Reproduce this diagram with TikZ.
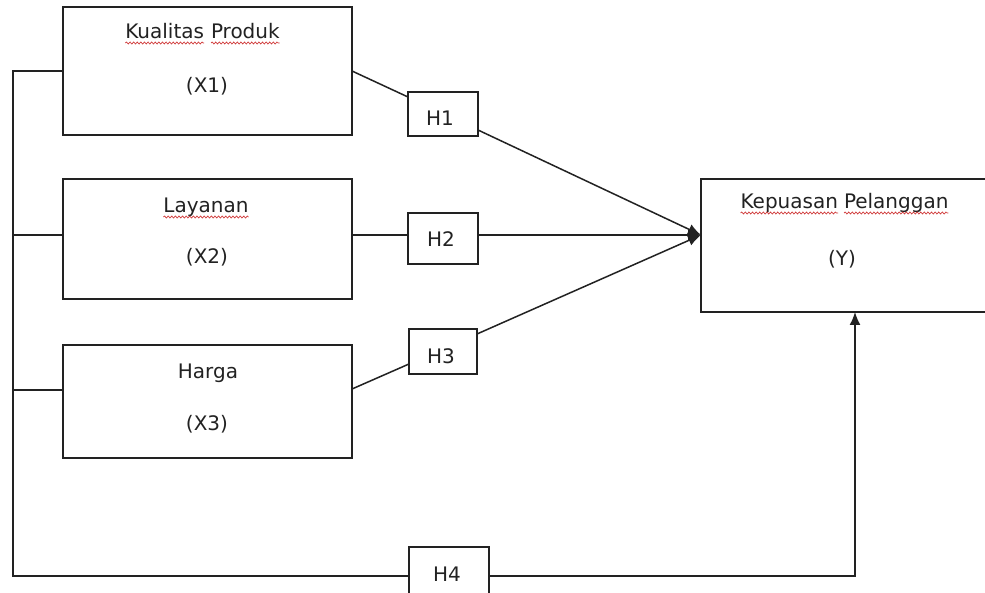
\documentclass[tikz,border=0pt]{standalone}
\usepackage{fontspec}
\setmainfont{DejaVu Sans}
\usetikzlibrary{arrows.meta,calc,decorations.pathmorphing}
\definecolor{ink}{HTML}{222222}
\definecolor{squigred}{HTML}{D03A3A}
\begin{document}
\begin{tikzpicture}[x=1pt,y=-1pt,
  box/.style={draw=ink,line width=1.6pt,rectangle,inner sep=0pt,outer sep=0pt},
  txt/.style={inner sep=0pt,outer sep=0pt,text=ink,font=\fontsize{20}{24}\selectfont},
  conn/.style={draw=ink,line width=1.5pt},
  arr/.style={conn,-{Latex[length=13pt,width=11pt]}},
  squig/.style={draw=squigred,line width=0.7pt,decorate,decoration={snake,amplitude=1pt,segment length=3.6pt}}]
\useasboundingbox (0,0) rectangle (985,593);
\clip (0,0) rectangle (985,593);
\fill[white] (0,0) rectangle (985,593);
% boxes
\node[box,minimum width=289pt,minimum height=128pt] (X1) at (207.5,71) {};
\node[box,minimum width=289pt,minimum height=120pt] (X2) at (207.5,239) {};
\node[box,minimum width=289pt,minimum height=113pt] (X3) at (207.5,401.5) {};
\node[box,minimum width=299pt,minimum height=133pt] (Y) at (850.5,245.5) {};
\node[box,minimum width=70pt,minimum height=44pt] (H1) at (443,114) {};
\node[box,minimum width=70pt,minimum height=51pt] (H2) at (443,238.5) {};
\node[box,minimum width=68pt,minimum height=45pt] (H3) at (443,351.5) {};
\node[box,minimum width=80pt,minimum height=60pt] (H4) at (449,577) {};
% texts
\node[txt,anchor=base east] (k1) at (204,39) {Kualitas};
\node[txt,anchor=base west] (k2) at (211,39) {Produk};
\node[txt,anchor=base] (x1t) at (207,93) {(X1)};
\node[txt,anchor=base] (l1) at (206,213) {Layanan};
\node[txt,anchor=base] (x2t) at (207,264) {(X2)};
\node[txt,anchor=base] (h1t) at (208,378) {Harga};
\node[txt,anchor=base] (x3t) at (207,430) {(X3)};
\node[txt,anchor=base east] (y1) at (838,209) {Kepuasan};
\node[txt,anchor=base west] (y2) at (844,209) {Pelanggan};
\node[txt,anchor=base] (yt) at (842,266) {(Y)};
\node[txt,anchor=base] (hl1) at (440,126) {H1};
\node[txt,anchor=base] (hl2) at (441,247) {H2};
\node[txt,anchor=base] (hl3) at (441,363) {H3};
\node[txt,anchor=base] (hl4) at (447,581) {H4};
% spell-check squiggles
\foreach \w in {k1,k2,l1,y1,y2}{
  \draw[squig] ([yshift=-4pt]\w.base west) -- ([yshift=-4pt]\w.base east);
}
% coordinates
\coordinate (T) at (701,235);
\coordinate (C1) at (13,71);
\coordinate (C4) at (13,576);
\coordinate (B) at (855,576);
% connectors to Y
\draw[conn] (X1.east) -- ($(H1.north west)+(0,5)$);
\draw[arr] ($(H1.south east)+(0,-6)$) -- (T);
\draw[conn] (X2.east |- T) -- (H2.west |- T);
\draw[arr] (H2.east |- T) -- (T);
\draw[conn] ($(X3.east)+(0,-12.5)$) -- ($(H3.west)+(0,12.5)$);
\draw[arr] ($(H3.north east)+(0,5)$) -- (T);
% left bus
\draw[conn] (X1.west) -- (C1) -- (C4) -- (H4.west |- C4);
\draw[conn] (C1 |- T) -- (X2.west |- T);
\draw[conn] ($(C1 |- X3.west)+(0,-11.5)$) -- ($(X3.west)+(0,-11.5)$);
\draw[arr] (H4.east |- B) -- (B) -- (B |- Y.south);
\end{tikzpicture}
\end{document}
